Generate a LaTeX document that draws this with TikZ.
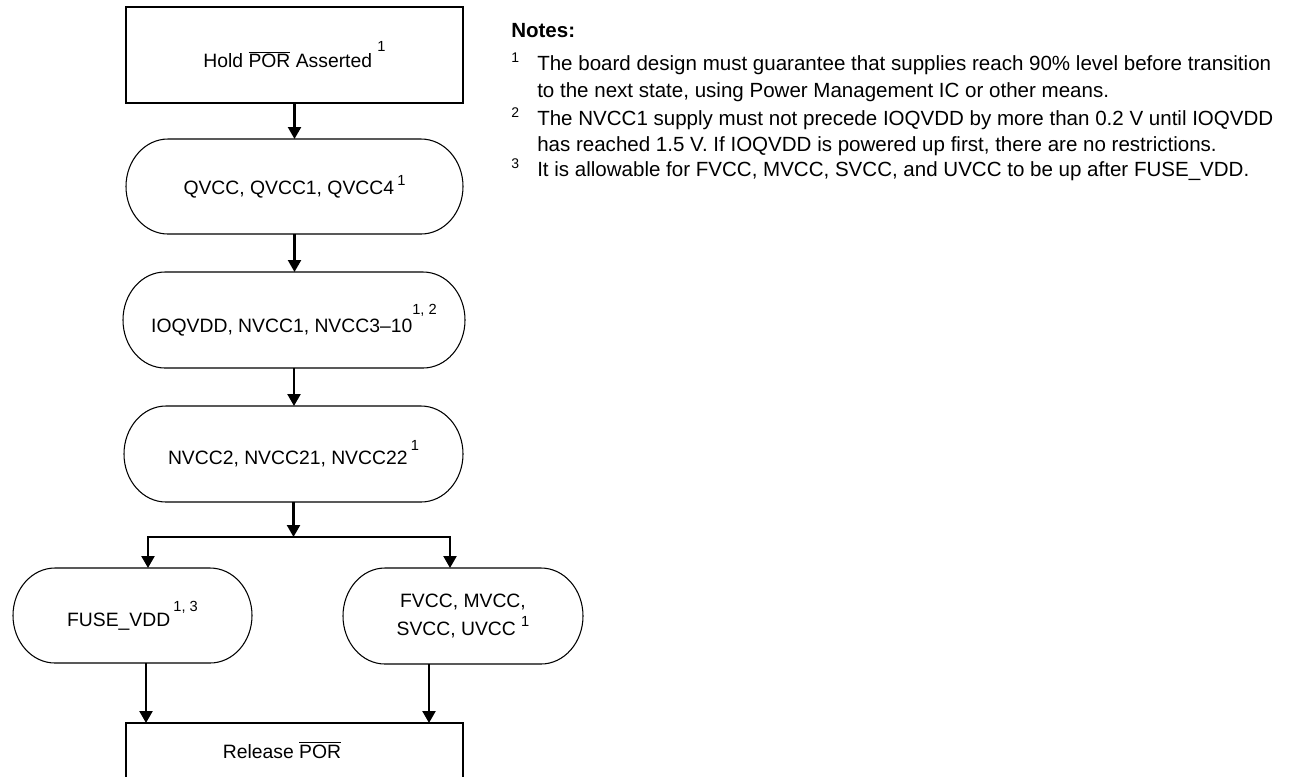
\documentclass[tikz,border=0pt]{standalone}
\usepackage{fontspec}
\setmainfont{Liberation Sans}
\usetikzlibrary{arrows.meta}
\newcommand\fnm[2]{\raisebox{#1}{\fontsize{11pt}{12pt}\selectfont #2}}
\newcommand\nbar[1]{$\overline{\hbox{#1}}$}
\newcommand\stad[3]{\draw[stadline] ([xshift=#2]#1.north west) -- ([xshift=-#2]#1.north east) arc[start angle=90,end angle=-90,x radius=#2,y radius=#3] -- ([xshift=#2]#1.south west) arc[start angle=270,end angle=90,x radius=#2,y radius=#3] -- cycle;}
\begin{document}
\begin{tikzpicture}[x=0.75pt,y=-0.75pt,
  flow/.style={font=\fontsize{14.5pt}{21pt}\selectfont},
  rectbox/.style={draw, line width=2pt, inner sep=0pt, outer sep=0pt, flow},
  stadbox/.style={inner sep=0pt, outer sep=0pt, flow, align=center},
  stadline/.style={line width=0.8pt},
  conn/.style={line width=1.7pt},
  arr/.style={conn, -{Triangle[width=9.75pt,length=9pt]}},
  arr2/.style={conn, {Triangle[width=9.75pt,length=9pt]}-{Triangle[width=9.75pt,length=9pt]}},
  notetext/.style={anchor=base west, inner sep=0pt, font=\fontsize{15.4pt}{18pt}\selectfont},
  notesup/.style={anchor=base west, inner sep=0pt, font=\fontsize{10.5pt}{12pt}\selectfont}
]
\useasboundingbox (0,0) rectangle (1291,776);
\fill[white] (0,0) rectangle (1291,776);
\clip (0,0) rectangle (1291,776);

% boxes
\node[rectbox, minimum width=252.75pt, minimum height=72pt] (top) at (294.5,55)
  {Hold \nbar{POR} Asserted \fnm{12pt}{1}};
\node[stadbox, minimum width=252.75pt, minimum height=71.25pt] (q) at (294.5,186.5)
  {QVCC, QVCC1, QVCC4\,\fnm{7pt}{1}};
\stad{q}{31.5pt}{35.625pt}
\node[stadbox, minimum width=256.5pt, minimum height=72pt] (io) at (294,320)
  {IOQVDD, NVCC1, NVCC3--10\fnm{13.5pt}{1, 2}};
\stad{io}{31.5pt}{36pt}
\node[stadbox, minimum width=254.25pt, minimum height=72pt] (nv) at (293.5,454)
  {NVCC2, NVCC21, NVCC22\,\fnm{10.5pt}{1}};
\stad{nv}{31.5pt}{36pt}
\node[stadbox, minimum width=179.25pt, minimum height=71.25pt] (fuse) at (132.5,615.5)
  {FUSE\_VDD\,\fnm{11pt}{1, 3}};
\stad{fuse}{31.5pt}{35.625pt}
\node[stadbox, minimum width=180pt, minimum height=72pt] (fv) at (463,616)
  {FVCC, MVCC,\\ SVCC, UVCC \fnm{7pt}{1}};
\stad{fv}{31.5pt}{36pt}
\node[rectbox, minimum width=252.75pt, minimum height=75pt] (rel) at (294.5,773) {};
\node[flow, anchor=base, inner sep=0pt] (reltxt) at (282,758) {Release \nbar{POR}};

% connectors
\coordinate (jn) at (294,537);
\coordinate (jl) at (148,537);
\coordinate (jr) at (450,537);
\coordinate (fx) at (146,0);
\coordinate (vx) at (429,0);
\draw[arr] (top.south) -- (q.north);
\draw[arr] (q.south) -- (q.south |- io.north);
\draw[arr] (io.south) -- (io.south |- nv.north);
\draw[arr] (nv.south) -- (nv.south |- jn);
\draw[arr2] (jl |- fuse.north) -- (jl) -- (jr) -- (jr |- fv.north);
\draw[arr] (fx |- fuse.south) -- (fx |- rel.north);
\draw[arr] (vx |- fv.south) -- (vx |- rel.north);

% notes
\node[notetext] (nh) at (511,37) {\textbf{Notes:}};
\node[notesup] (s1) at (511,62) {1};
\node[notetext] (l1) at (537,70) {The board design must guarantee that supplies reach 90\% level before transition};
\node[notetext] (l2) at (537,97) {to the next state, using Power Management IC or other means.};
\node[notesup] (s2) at (511,117) {2};
\node[notetext] (l3) at (537,125) {The NVCC1 supply must not precede IOQVDD by more than 0.2 V until IOQVDD};
\node[notetext] (l4) at (537,151) {has reached 1.5 V. If IOQVDD is powered up first, there are no restrictions.};
\node[notesup] (s3) at (511,168) {3};
\node[notetext] (l5) at (537,176) {It is allowable for FVCC, MVCC, SVCC, and UVCC to be up after FUSE\_VDD.};
\end{tikzpicture}
\end{document}
